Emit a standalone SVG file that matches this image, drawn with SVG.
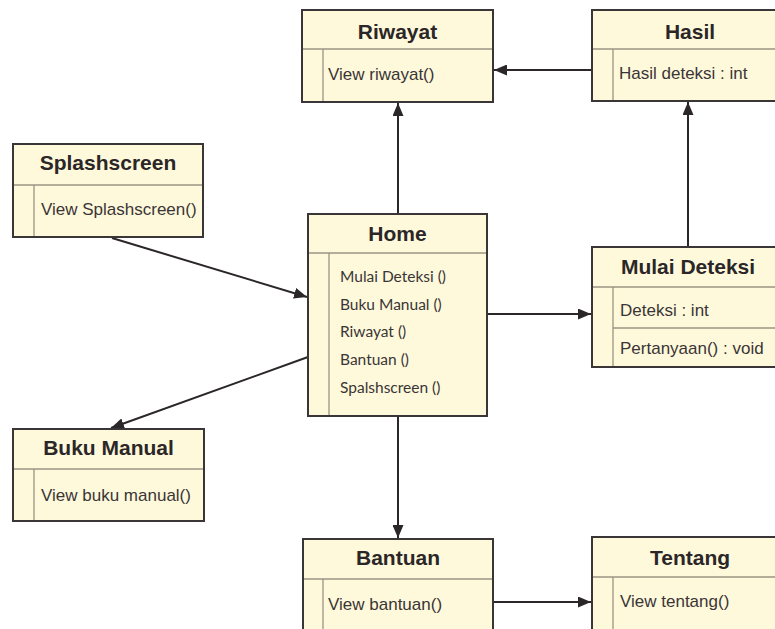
<svg xmlns="http://www.w3.org/2000/svg" width="775" height="629" viewBox="0 0 775 629">
<style>
.box{fill:#fff9db;stroke:#3a3536;stroke-width:2}
.div{stroke:#9b9384;stroke-width:1.3;fill:none}
.t{font-family:"Liberation Sans",Arial,sans-serif;font-weight:bold;font-size:21px;fill:#2b2627;text-anchor:middle}
.b{font-family:"Liberation Sans",Arial,sans-serif;font-size:17px;fill:#3a3536}
.c{font-family:Lato,"Open Sans",sans-serif;font-size:15.5px;fill:#3a3536}
.e{stroke:#2b2627;stroke-width:2;fill:none;marker-end:url(#ah)}
</style>
<defs>
<marker id="ah" markerUnits="userSpaceOnUse" markerWidth="13" markerHeight="11" refX="13" refY="5.5" orient="auto">
<path d="M0,0 L13,5.5 L0,11 z" fill="#2b2627"/>
</marker>
</defs>
<rect width="775" height="629" fill="#ffffff"/>
<g id="connectors">
<line class="e" x1="398" y1="214" x2="398" y2="103"/>
<line class="e" x1="592" y1="70" x2="494" y2="70"/>
<line class="e" x1="688" y1="247" x2="688" y2="102"/>
<line class="e" x1="112" y1="238" x2="307" y2="297"/>
<line class="e" x1="308" y1="357" x2="111" y2="428"/>
<line class="e" x1="487" y1="314" x2="591" y2="314"/>
<line class="e" x1="398" y1="416" x2="398" y2="538"/>
<line class="e" x1="493" y1="602" x2="591" y2="602"/>
</g>
<g id="riwayat">
<rect class="box" x="302" y="10" width="191" height="92"/>
<line class="div" x1="303" y1="49" x2="492" y2="49"/>
<line class="div" x1="323" y1="49" x2="323" y2="101"/>
<text class="t" x="397.5" y="39">Riwayat</text>
<text class="b" x="328" y="80">View riwayat()</text>
</g>
<g id="hasil">
<rect class="box" x="592" y="10" width="196" height="91"/>
<line class="div" x1="593" y1="49" x2="787" y2="49"/>
<line class="div" x1="613" y1="49" x2="613" y2="100"/>
<text class="t" x="690" y="39">Hasil</text>
<text class="b" x="619" y="79">Hasil deteksi : int</text>
</g>
<g id="splashscreen">
<rect class="box" x="13" y="144" width="190" height="93"/>
<line class="div" x1="14" y1="185" x2="202" y2="185"/>
<line class="div" x1="34" y1="185" x2="34" y2="236"/>
<text class="t" x="108" y="170">Splashscreen</text>
<text class="b" x="41" y="215">View Splashscreen()</text>
</g>
<g id="home">
<rect class="box" x="308" y="214" width="179" height="202"/>
<line class="div" x1="309" y1="253" x2="486" y2="253"/>
<line class="div" x1="329" y1="253" x2="329" y2="415"/>
<text class="t" x="397.5" y="241">Home</text>
<text class="c" x="340" y="282">Mulai Deteksi ()</text>
<text class="c" x="340" y="309.7">Buku Manual ()</text>
<text class="c" x="340" y="337.4">Riwayat ()</text>
<text class="c" x="340" y="365">Bantuan ()</text>
<text class="c" x="340" y="392.7">Spalshscreen ()</text>
</g>
<g id="mulai-deteksi">
<rect class="box" x="592" y="247" width="196" height="120"/>
<line class="div" x1="593" y1="287" x2="787" y2="287"/>
<line class="div" x1="613" y1="328" x2="787" y2="328"/>
<line class="div" x1="613" y1="287" x2="613" y2="366"/>
<text class="t" x="688" y="274">Mulai Deteksi</text>
<text class="b" x="620" y="316">Deteksi : int</text>
<text class="b" x="620" y="354">Pertanyaan() : void</text>
</g>
<g id="buku-manual">
<rect class="box" x="13" y="429" width="191" height="92"/>
<line class="div" x1="14" y1="469" x2="203" y2="469"/>
<line class="div" x1="34" y1="469" x2="34" y2="520"/>
<text class="t" x="108.5" y="455">Buku Manual</text>
<text class="b" x="41" y="501">View buku manual()</text>
</g>
<g id="bantuan">
<rect class="box" x="303" y="539" width="190" height="100"/>
<line class="div" x1="304" y1="579" x2="492" y2="579"/>
<line class="div" x1="323" y1="579" x2="323" y2="639"/>
<text class="t" x="398" y="565">Bantuan</text>
<text class="b" x="328" y="610">View bantuan()</text>
</g>
<g id="tentang">
<rect class="box" x="592" y="537" width="196" height="100"/>
<line class="div" x1="593" y1="577" x2="787" y2="577"/>
<line class="div" x1="613" y1="577" x2="613" y2="637"/>
<text class="t" x="690" y="565">Tentang</text>
<text class="b" x="620" y="607">View tentang()</text>
</g>
</svg>
